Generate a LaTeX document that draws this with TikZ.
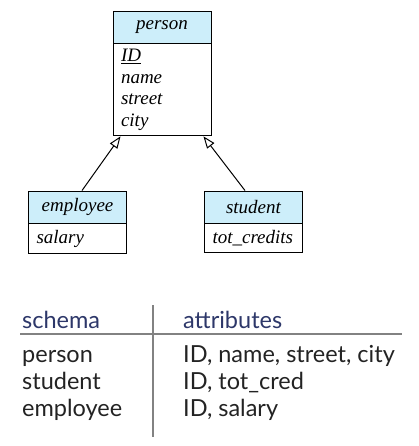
\documentclass[tikz,border=0pt]{standalone}
\usepackage{fontspec}
\setmainfont{Liberation Serif}
\newfontfamily\tablefont{Lato}
\usetikzlibrary{arrows.meta,positioning,calc}
\definecolor{headblue}{RGB}{205,238,250}
\definecolor{navy}{RGB}{45,55,105}
\definecolor{ink}{RGB}{35,35,35}
\definecolor{rulegray}{RGB}{130,130,130}
\tikzset{
    classhead/.style={draw, line width=0.9pt, fill=headblue, minimum width=98pt,
        minimum height=32pt, inner sep=0pt, font=\fontsize{19}{21.5}\selectfont\itshape},
    classbody/.style={draw, line width=0.9pt, anchor=north, minimum width=98pt,
        text width=82pt, inner xsep=8pt, inner ysep=0pt, align=left,
        font=\fontsize{19}{21.5}\selectfont\itshape},
    isa/.style={-{Triangle[open,length=12pt,width=9pt]}, line width=1pt},
    tabtext/.style={anchor=base west, inner sep=0pt, text=ink,
        font=\tablefont\fontsize{23.5}{28}\selectfont}
}
\begin{document}
\begin{tikzpicture}[x=1pt, y=-1pt]
    \useasboundingbox (0,0) rectangle (418,446);

    % class boxes
    \node[classhead] (person) at (162,27) {person};
    \node[classbody, minimum height=92pt] (personattrs) at (person.south)
        {\underline{ID}\\name\\street\\city};
    \node[classhead] (employee) at (77.5,207) {employee};
    \node[classbody, minimum height=30pt] (employeeattrs) at (employee.south) {salary};
    \node[classhead] (student) at (253.5,207) {student};
    \node[classbody, minimum height=29pt] (studentattrs) at (student.south) {tot\_credits};

    % specialization
    \draw[isa] ([xshift=4.5pt]employee.north) -- ([xshift=8pt]personattrs.south west);
    \draw[isa] ([xshift=-8.5pt]student.north) -- ([xshift=-8pt]personattrs.south east);

    % relation schemas
    \draw[rulegray, line width=1.4pt] (153,305) -- (153,437);
    \draw[rulegray, line width=1.4pt] (20,334) -- (402,334);
    \node[tabtext, text=navy] (schemahd) at (22,328) {schema};
    \node[tabtext, text=navy] (attrhd) at (183,328) {attributes};
    \node[tabtext] (personrow) at (22,362) {person};
    \node[tabtext] (personcols) at (183,362) {ID, name, street, city};
    \node[tabtext] (studentrow) at (22,389) {student};
    \node[tabtext] (studentcols) at (183,389) {ID, tot\_cred};
    \node[tabtext] (employeerow) at (22,416) {employee};
    \node[tabtext] (employeecols) at (183,416) {ID, salary};
\end{tikzpicture}
\end{document}
